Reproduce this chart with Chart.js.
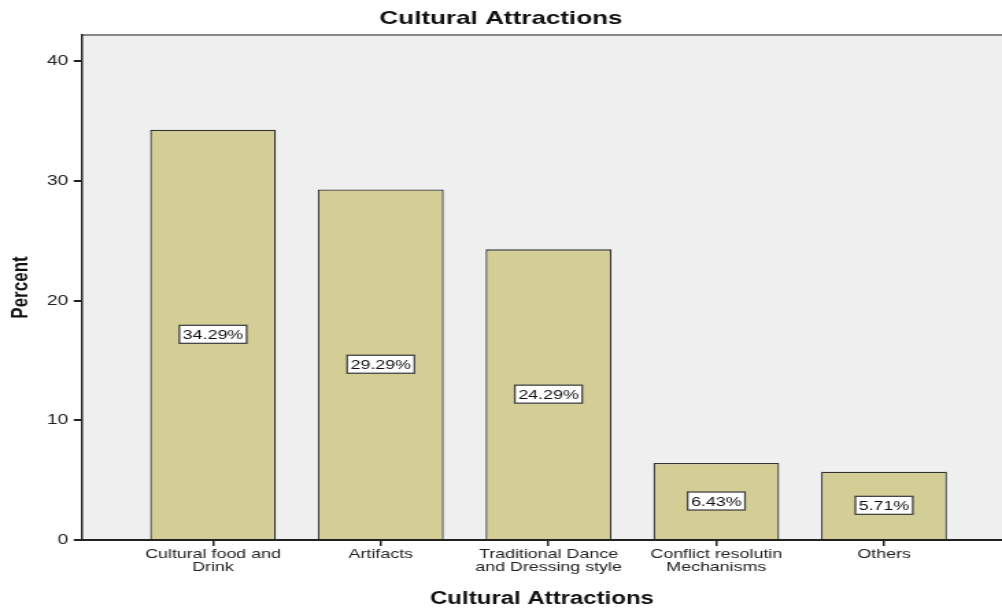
<!DOCTYPE html>
<html>
<head>
<meta charset="utf-8">
<script src="https://cdn.jsdelivr.net/npm/chart.js@4"></script>
<style>
  html, body { margin: 0; padding: 0; background: #fff; overflow: hidden; }
  /* the reference is stretched sideways, so draw narrow and scale it out */
  #wrap { width: 731px; height: 612px; transform: scaleX(1.3707); transform-origin: 0 0; }
</style>
</head>
<body>
<div id="wrap"><canvas id="chart"></canvas></div>
<script>
const categories = ['Cultural food and\nDrink', 'Artifacts', 'Traditional Dance\nand Dressing style', 'Conflict resolutin\nMechanisms', 'Others']
const percents = [34.29, 29.29, 24.29, 6.43, 5.71]
const yTicks = [0, 10, 20, 30, 40]

const barColor = '#d3cd96'
const font = "Arial, 'Liberation Sans', sans-serif"

// plot background + grey top border
const plotFrame = {
  id: 'plotFrame',
  beforeDraw(chart) {
    const { ctx, chartArea: a } = chart
    ctx.save()
    ctx.fillStyle = '#efefef'
    ctx.fillRect(a.left, a.top, a.right - a.left, a.bottom - a.top)
    ctx.strokeStyle = '#888'
    ctx.lineWidth = 2
    ctx.beginPath()
    ctx.moveTo(a.left, a.top)
    ctx.lineTo(a.right, a.top)
    ctx.stroke()
    ctx.restore()
  }
}

// boxed percent labels in the middle of each bar
const boxLabels = {
  id: 'boxLabels',
  afterDatasetsDraw(chart) {
    const { ctx } = chart
    const meta = chart.getDatasetMeta(0)
    ctx.save()
    ctx.font = '13px ' + font
    ctx.textAlign = 'center'
    ctx.textBaseline = 'middle'
    meta.data.forEach((bar, i) => {
      const txt = percents[i].toFixed(2) + '%'
      const y = (bar.y + bar.base) / 2
      const w = ctx.measureText(txt).width + 5
      const h = 18
      ctx.fillStyle = '#fff'
      ctx.fillRect(bar.x - w / 2, y - h / 2, w, h)
      ctx.strokeStyle = '#444'
      ctx.lineWidth = 1.3
      ctx.strokeRect(bar.x - w / 2, y - h / 2, w, h)
      ctx.fillStyle = '#111'
      ctx.fillText(txt, bar.x, y + 1)
    })
    ctx.restore()
  }
}

new Chart(document.getElementById('chart'), {
  type: 'bar',
  data: {
    datasets: [{
      data: percents.map((v, i) => ({ x: i, y: v })),
      backgroundColor: barColor,
      borderColor: '#333',
      borderWidth: 1.3,
      categoryPercentage: 1,
      barPercentage: 0.75
    }]
  },
  options: {
    responsive: true,
    maintainAspectRatio: false,
    animation: false,
    layout: { padding: 0 },
    plugins: {
      legend: { display: false },
      tooltip: { enabled: false },
      title: {
        display: true,
        text: 'Cultural Attractions',
        color: '#111',
        font: { family: font, size: 19, weight: 'bold' },
        padding: { top: 7, bottom: 5.2 }
      }
    },
    scales: {
      x: {
        type: 'linear',
        offset: false,
        min: -0.781,
        max: 4.703,
        afterBuildTicks: (scale) => { scale.ticks = categories.map((_, i) => ({ value: i })) },
        afterFit: (scale) => { scale.height = 72 },
        ticks: {
          autoSkip: false,
          maxRotation: 0,
          padding: 2,
          color: '#222',
          font: { family: font, size: 13, lineHeight: 1.0 },
          callback: (v) => categories[v] ? categories[v].split('\n') : ''
        },
        grid: { offset: false, drawOnChartArea: false, tickLength: 6, color: '#222', lineWidth: 1.5 },
        border: { color: '#222', width: 2 },
        title: {
          display: true,
          text: 'Cultural Attractions',
          color: '#111',
          font: { family: font, size: 17.5, weight: 'bold' },
          padding: { top: 0, bottom: 2 }
        }
      },
      y: {
        min: 0,
        max: 42.2,
        afterBuildTicks: (scale) => { scale.ticks = yTicks.map(v => ({ value: v })) },
        afterFit: (scale) => { scale.width = 59.8 },
        ticks: {
          padding: 4,
          color: '#222',
          font: { family: font, size: 14 }
        },
        grid: { drawOnChartArea: false, tickLength: 6, color: '#222', lineWidth: 2 },
        border: { color: '#222', width: 1.5 },
        title: {
          display: true,
          text: 'Percent',
          color: '#111',
          font: { family: font, size: 17, weight: 'bold' },
          padding: { top: 5, bottom: 2 }
        }
      }
    }
  },
  plugins: [plotFrame, boxLabels]
})
</script>
</body>
</html>
